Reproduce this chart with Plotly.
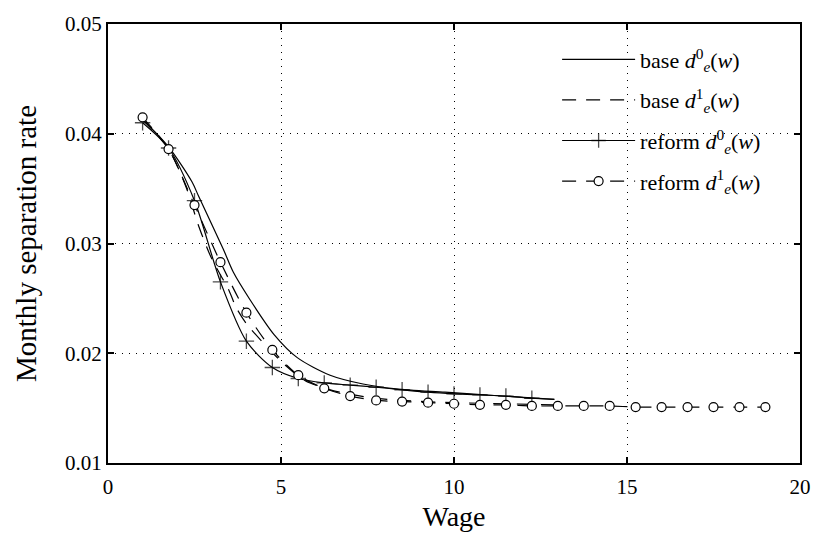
import plotly.graph_objects as go

# ---- data ----
base0_x = [1.0, 1.75, 2.43, 2.62, 3.33, 3.62, 4.1, 4.8, 5.47, 6.42, 7.37, 8.32, 9.74, 11.17, 12.9]
base0_y = [0.0413, 0.0388, 0.0356, 0.0343, 0.0295, 0.0274, 0.0249, 0.0217, 0.0196, 0.0180, 0.0172, 0.01676, 0.01645, 0.01615, 0.0158]

base1_x = [1.0, 1.75, 2.25, 2.62, 3.0, 3.5, 3.7, 4.0, 4.56, 5.09, 5.7, 6.5, 7.5, 8.5, 10.0, 11.5, 12.9]
base1_y = [0.0413, 0.0386, 0.0352, 0.0316, 0.0286, 0.0257, 0.0242, 0.0227, 0.0207, 0.0190, 0.0175, 0.0166, 0.0160, 0.0157, 0.0155, 0.0154, 0.0153]

reform0_x = [1.0, 1.75, 2.5, 3.25, 4.0, 4.75, 5.5, 6.25, 7.0, 7.75, 8.5, 9.25, 10.0, 10.75, 11.5, 12.25, 12.9]
reform0_y = [0.0410, 0.0387, 0.0339, 0.0265, 0.0211, 0.0187, 0.0177, 0.0173, 0.0171, 0.0169, 0.01667, 0.01645, 0.0163, 0.0162, 0.0161, 0.0159, 0.0158]

reform1_x = [1.0, 1.75, 2.5, 3.25, 4.0, 4.75, 5.5, 6.25, 7.0, 7.75, 8.5, 9.25, 10.0,
             10.75, 11.5, 12.25, 13.0, 13.75, 14.5, 15.25, 16.0, 16.75, 17.5, 18.25, 19.0]
reform1_y = [0.0415, 0.0386, 0.0335, 0.0283, 0.0237, 0.0203, 0.0180, 0.0168, 0.0161, 0.0157, 0.0156, 0.0155, 0.0154,
             0.0153, 0.0153, 0.0152, 0.0152, 0.0152, 0.0152, 0.0151, 0.0151, 0.0151, 0.0151, 0.0151, 0.0151]

x_ticks = [0, 5, 10, 15, 20]
y_ticks = [0.01, 0.02, 0.03, 0.04, 0.05]

names = ["base <i>d</i><sup>0</sup><sub><i>e</i></sub>(<i>w</i>)",
         "base <i>d</i><sup>1</sup><sub><i>e</i></sub>(<i>w</i>)",
         "reform <i>d</i><sup>0</sup><sub><i>e</i></sub>(<i>w</i>)",
         "reform <i>d</i><sup>1</sup><sub><i>e</i></sub>(<i>w</i>)"]

FONT = "Liberation Serif"
DASH = "14px,10px"
LW = 1.2

fig = go.Figure()
fig.add_trace(go.Scatter(x=base0_x, y=base0_y, mode="lines", name=names[0], legendgroup="a",
                         line=dict(color="black", width=LW, shape="spline", smoothing=0.8)))
fig.add_trace(go.Scatter(x=base1_x, y=base1_y, mode="lines", name=names[1], legendgroup="b",
                         line=dict(color="black", width=LW, dash=DASH, shape="spline", smoothing=0.8)))
sizes0 = [11] * (len(reform0_x) - 1) + [0]
fig.add_trace(go.Scatter(x=reform0_x, y=reform0_y, mode="lines+markers", name=names[2], legendgroup="c",
                         line=dict(color="black", width=LW, shape="spline", smoothing=0.8),
                         marker=dict(symbol="cross-thin", size=sizes0, color="black",
                                     line=dict(color="black", width=1.3))))
fig.add_trace(go.Scatter(x=reform1_x, y=reform1_y, mode="lines+markers", name=names[3], legendgroup="d",
                         line=dict(color="black", width=LW, dash=DASH, shape="spline", smoothing=0.8),
                         marker=dict(symbol="circle", size=9, color="white",
                                     line=dict(color="black", width=1.2))))

axis_common = dict(
    showline=True, linecolor="black", linewidth=2, mirror="ticks",
    ticks="inside", ticklen=6, tickcolor="black", tickwidth=1.5,
    showgrid=True, gridcolor="black", gridwidth=1, griddash="1px,6px",
    zeroline=False,
    tickfont=dict(family=FONT, size=21, color="black"),
)

fig.update_layout(
    width=823, height=547,
    margin=dict(l=108, r=13, t=20, b=84),
    paper_bgcolor="white", plot_bgcolor="white",
    font=dict(family=FONT, color="black"),
    xaxis=dict(range=[0, 20], tickvals=x_ticks, ticktext=[str(v) for v in x_ticks],
               ticklabelstandoff=4,
               title=dict(text="Wage", font=dict(family=FONT, size=28), standoff=8),
               **axis_common),
    yaxis=dict(range=[0.01, 0.05], tickvals=y_ticks, ticktext=[f"{v:.2f}" for v in y_ticks],
               title=dict(text="Monthly separation rate", font=dict(family=FONT, size=29), standoff=20),
               **axis_common),
    legend=dict(x=0.649, y=0.967, xanchor="left", yanchor="top",
                bgcolor="rgba(0,0,0,0)", borderwidth=0,
                font=dict(family=FONT, size=22, color="black"),
                itemwidth=73, tracegroupgap=9),
    showlegend=True,
)

fig.write_html("out.html")
